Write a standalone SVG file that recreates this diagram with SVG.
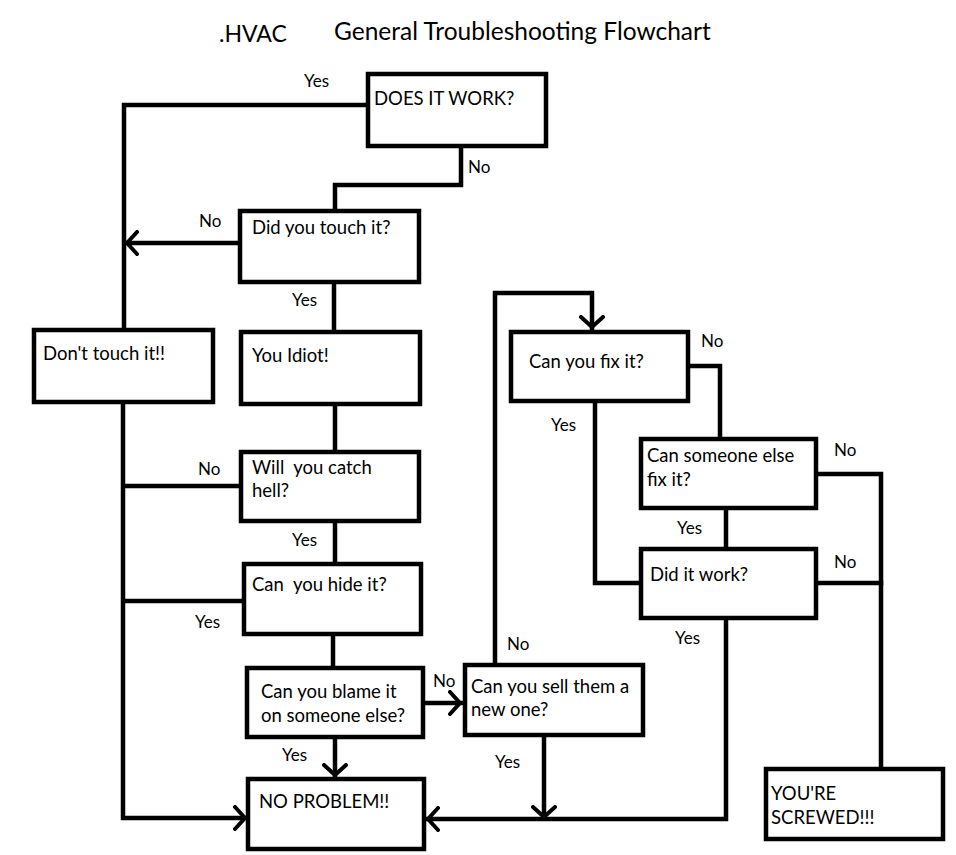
<svg xmlns="http://www.w3.org/2000/svg" width="956" height="855" viewBox="0 0 956 855">
<style>
.box{fill:#fff;stroke:#000;stroke-width:4.5}
.t{font-family:Lato,"Open Sans","Liberation Sans",sans-serif;font-size:18.5px;fill:#000;white-space:pre}
.lbl{font-family:Lato,"Open Sans","Liberation Sans",sans-serif;font-size:17px;fill:#000}
.ttl{font-family:Lato,"Open Sans","Liberation Sans",sans-serif;font-size:24.5px;fill:#000}
.c{fill:none;stroke:#000;stroke-width:4.5;stroke-linejoin:miter;stroke-linecap:square}
</style>
<defs>
<marker id="arr" viewBox="0 0 14 26" refX="13" refY="13" markerWidth="14" markerHeight="26" orient="auto" markerUnits="userSpaceOnUse">
<path d="M2,2 L12,13 L2,24" fill="none" stroke="#000" stroke-width="4" stroke-linecap="round"/>
</marker>
</defs>
<rect width="956" height="855" fill="#fff"/>
<g id="title">
<text class="ttl" x="219" y="42" style="font-size:23px">.HVAC</text>
<text class="ttl" x="334" y="40">General Troubleshooting Flowchart</text>
</g>
<g id="connectors">
<path class="c" d="M366,105 H124 V328"/>
<path class="c" d="M461,148 V185 H335 V209"/>
<path class="c" d="M238,243 H126" marker-end="url(#arr)"/>
<path class="c" d="M334,284 V330"/>
<path class="c" d="M335,406 V450"/>
<path class="c" d="M239,486 H124"/>
<path class="c" d="M335,523 V562"/>
<path class="c" d="M242,601 H124"/>
<path class="c" d="M333,636 V666"/>
<path class="c" d="M335,739 V776" marker-end="url(#arr)"/>
<path class="c" d="M425,703 H461" marker-end="url(#arr)"/>
<path class="c" d="M123,404 V818 H246" marker-end="url(#arr)"/>
<path class="c" d="M495,663 V293 H592 V328" marker-end="url(#arr)"/>
<path class="c" d="M690,366 H720 V437"/>
<path class="c" d="M595,403 V583 H639"/>
<path class="c" d="M726,510 V547"/>
<path class="c" d="M818,474 H881 V767"/>
<path class="c" d="M818,583 H881"/>
<path class="c" d="M544,737 V818" marker-end="url(#arr)"/>
<path class="c" d="M726,620 V819 H427" marker-end="url(#arr)"/>
</g>
<g id="labels">
<text class="lbl" x="304" y="87">Yes</text>
<text class="lbl" x="468" y="173">No</text>
<text class="lbl" x="199" y="227">No</text>
<text class="lbl" x="292" y="306">Yes</text>
<text class="lbl" x="198" y="475">No</text>
<text class="lbl" x="292" y="546">Yes</text>
<text class="lbl" x="195" y="628">Yes</text>
<text class="lbl" x="433" y="687">No</text>
<text class="lbl" x="282" y="761">Yes</text>
<text class="lbl" x="507" y="650">No</text>
<text class="lbl" x="495" y="768">Yes</text>
<text class="lbl" x="701" y="347">No</text>
<text class="lbl" x="551" y="431">Yes</text>
<text class="lbl" x="834" y="456">No</text>
<text class="lbl" x="677" y="534">Yes</text>
<text class="lbl" x="834" y="568">No</text>
<text class="lbl" x="675" y="644">Yes</text>
</g>
<g id="n-doesitwork"><rect class="box" x="368" y="74" width="178" height="72"/><text class="t" x="374" y="105">DOES IT WORK?</text></g>
<g id="n-touch"><rect class="box" x="240" y="211" width="179" height="71"/><text class="t" x="252" y="234">Did you touch it?</text></g>
<g id="n-donttouch"><rect class="box" x="34" y="330" width="179" height="72"/><text class="t" x="43" y="360">Don't touch it!!</text></g>
<g id="n-idiot"><rect class="box" x="241" y="332" width="179" height="72"/><text class="t" x="252" y="362">You Idiot!</text></g>
<g id="n-catch"><rect class="box" x="241" y="452" width="178" height="69"/><text class="t" x="252" y="474">Will  you catch</text><text class="t" x="252" y="497">hell?</text></g>
<g id="n-hide"><rect class="box" x="244" y="564" width="177" height="70"/><text class="t" x="252" y="591">Can  you hide it?</text></g>
<g id="n-blame"><rect class="box" x="247" y="668" width="176" height="69"/><text class="t" x="261" y="698">Can you blame it</text><text class="t" x="261" y="722">on someone else?</text></g>
<g id="n-noproblem"><rect class="box" x="248" y="779" width="176" height="70"/><text class="t" x="259" y="808">NO PROBLEM!!</text></g>
<g id="n-sell"><rect class="box" x="465" y="665" width="178" height="70"/><text class="t" x="471" y="693">Can you sell them a</text><text class="t" x="471" y="716">new one?</text></g>
<g id="n-fix"><rect class="box" x="511" y="332" width="177" height="69"/><text class="t" x="529" y="368">Can you fix it?</text></g>
<g id="n-someone"><rect class="box" x="641" y="439" width="175" height="69"/><text class="t" x="647" y="462">Can someone else</text><text class="t" x="647" y="486">fix it?</text></g>
<g id="n-didwork"><rect class="box" x="641" y="549" width="175" height="69"/><text class="t" x="650" y="581">Did it work?</text></g>
<g id="n-screwed"><rect class="box" x="766" y="769" width="177" height="70"/><text class="t" x="771" y="800">YOU'RE</text><text class="t" x="771" y="824">SCREWED!!!</text></g>
</svg>
